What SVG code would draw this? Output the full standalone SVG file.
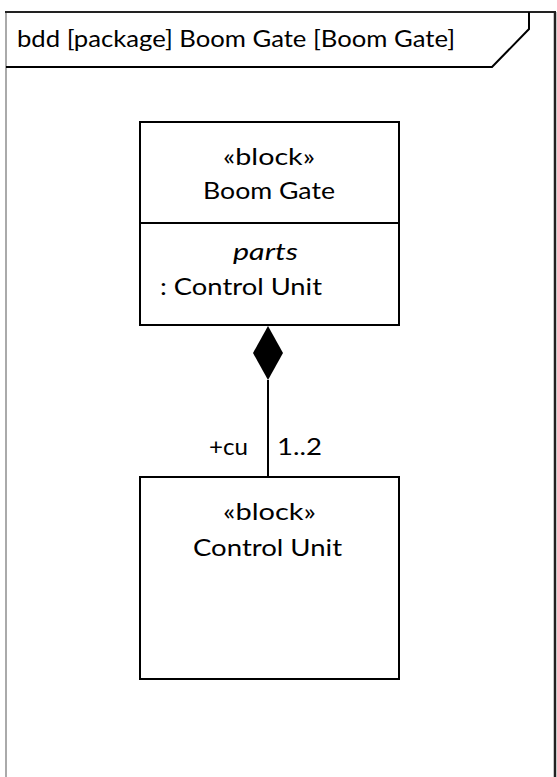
<svg xmlns="http://www.w3.org/2000/svg" width="557" height="777" viewBox="0 0 557 777">
<style>
text{font-family:Lato,"Open Sans","Liberation Sans",sans-serif;font-size:24px;fill:#000}
.box{fill:#fff;stroke:#000;stroke-width:2}
.ln{stroke:#000;stroke-width:2;fill:none}
</style>
<rect width="557" height="777" fill="#fff"/>
<g id="frame">
<line x1="6" y1="12" x2="6" y2="777" stroke="#aaa" stroke-width="2"/>
<line x1="555" y1="12" x2="555" y2="777" stroke="#222" stroke-width="2.5"/>
<line x1="5" y1="12" x2="556" y2="12" stroke="#222" stroke-width="2"/>
<path class="ln" d="M529,12 V29 L492,67 H6"/>
<text x="17" y="47" textLength="438" lengthAdjust="spacingAndGlyphs">bdd [package] Boom Gate [Boom Gate]</text>
</g>
<g id="boom-gate">
<rect class="box" x="140" y="122" width="259" height="203"/>
<line class="ln" x1="140" y1="223" x2="399" y2="223"/>
<text x="223" y="165" textLength="92" lengthAdjust="spacingAndGlyphs">«block»</text>
<text x="203" y="199" textLength="132" lengthAdjust="spacingAndGlyphs">Boom Gate</text>
<text x="233" y="260" font-style="italic" textLength="65" lengthAdjust="spacingAndGlyphs">parts</text>
<text x="160" y="295" textLength="162" lengthAdjust="spacingAndGlyphs">: Control Unit</text>
</g>
<g id="control-unit">
<rect class="box" x="140" y="477" width="259" height="202"/>
<text x="223" y="520" textLength="93" lengthAdjust="spacingAndGlyphs">«block»</text>
<text x="193" y="556" textLength="149" lengthAdjust="spacingAndGlyphs">Control Unit</text>
</g>
<g id="connectors">
<line class="ln" x1="268" y1="380" x2="268" y2="477"/>
<polygon points="268,326 283,353 268,380 253,353" fill="#000"/>
<text x="209" y="455" textLength="39" lengthAdjust="spacingAndGlyphs">+cu</text>
<text x="277" y="455" textLength="45" lengthAdjust="spacingAndGlyphs">1..2</text>
</g>
</svg>
